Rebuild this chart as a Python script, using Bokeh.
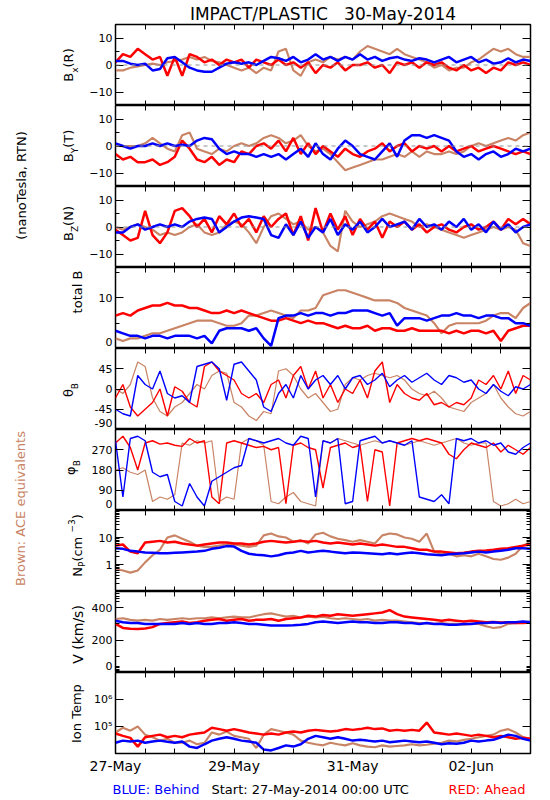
import numpy as np
from bokeh.plotting import figure
from bokeh.layouts import row, column
from bokeh.models import Range1d, FixedTicker, LinearAxis, LogAxis, Span
from bokeh.embed import file_html
from bokeh.resources import INLINE
from bokeh.core.properties import value

# ---------------- data (3-hourly, hours since 27-May-2014 00:00 UTC) ----------------
hours = list(range(0, 169, 3))

x_tick_hours = list(range(0, 169, 12))
x_tick_labels = {0: "27-May", 48: "29-May", 96: "31-May", 144: "02-Jun"}

bx_ahead = [1, 4, 3, 6, 4, 2, 3, -4, 3, -4, 4, 3, 1, 2, 0, 2,
            1, 2, -1, 2, 1, 0, 2, 0, 1, -1, 1, -3, 0, -1, 1, -2,
            0, 0, 1, -1, 0, -3, 1, 0, 1, -1, 1, 0, 1, -1, -2, 0,
            -2, -1, -3, -1, -2, 1, 0, 1, 0]
bx_behind = [1.5, 1.5, 0.5, 0, 0.5, -2, -1.5, 2.5, 3, 1, -1, -2, -2.5, -2.5, -1, 0.5,
             1, 0.5, 1, 0, 1.5, 3, 2.5, 1.5, 3, 1, 2, 4, 2, 3, 1.5, 3,
             2, 4, 2, 3, 1.5, 2.5, 3, 2, 1.5, 2.5, 2, 1, 2, 3, 1, 2,
             3, 1, 2, 0.5, 1, 2.5, 1, 2, 1.5]
bx_ace = [-2, -2, -1, -0.5, 0, 0.5, 0, 1, 1.5, 2, 3, 2, 3, 1.5, 1, 0,
          -1, -2, -1, -3, -1, -2, 5, 6, -2, -4, 1, 2, 1, 3, 2, 3,
          2, 5, 7, 6, 5, 4, 6, 4, 3, 2, 1, -1, 0, -2, -1, -1,
          1, 2, 4, 6, 5, 6, 4, 3, 3]

by_ahead = [-3, -5, -4, -6, -6, -5, -7, -6, -4, 2, -1, -5, -6, -4, -7, -5,
            -6, -2, -3, 0, 1, -1, 2, -2, 3, -3, 1, -3, 0, -2, -4, -1,
            -3, -4, -2, -1, 1, -2, 0, 1, -2, 0, -1, 0, -2, 0, -2, -1,
            0, -2, -1, 0, -1, -2, -3, -2, -3]
by_behind = [1, 0, -1, 0, 0, 1, 0, 1, 0, 0.5, 0, 2, 3, 2.5, -1, -3,
             -2, -3, -3, -4, -3, -4, -3, -5, -3, -1, -4, 1, -3, -5, -1, 2,
             0, -3, -4, -5, -2, 1, -4, 2, 4, 4, 3, 4, 3, 2, -2, -4,
             -3, -5, -3, -2, -4, -3, -1, -2, -1]
by_ace = [0, 0, 0, 0, 1, 3, 1, -1, -2, 4, 5, -1, -2, -3, -1, -2,
          0, 1, 0, 1, 3, 4, 3, 1, 2, 4, 0, -2, -1, -3, -6, -9,
          -8, -7, -6, -5, -5, -4, -3, -4, -2, -4, -2, -3, -3, -2, -3, -2,
          0, 1, 0, 1, 2, 3, 2, 4, 5]

bz_ahead = [-1, -3, -5, -4, 6, -3, -6, -2, 6, 7, 4, 0, 3, -2, 4, 1,
            5, 0, 3, -2, 4, 0, 3, 5, -3, 4, -5, 7, -2, 5, -1, 4,
            -3, 3, -1, 2, -4, 2, 0, 2, -1, 1, -2, 0, 1, -1, -2, 0,
            1, -1, 0, 2, -1, 3, 1, 3, 1]
bz_behind = [-2, -2, 0, 1, -1, 0, 1, 0, 1, 0, 2, 3, 3.5, 3, -2, 0,
             2, 3.5, 4, 3.5, 3, -3, -4, 1, -3, 2, -4, 0, -2, 3, -3, 1,
             -1, 2, -2, 0, 3, 0, 1, 2, -1, 3, 0, 1, -1, 2, 0, 3,
             -1, 1, -2, 2, -1, 1, -2, 0, 1]
bz_ace = [0, -1, 0, 1, 0, -1, -3, -2, -3, -2, 0, 1, -2, -3, -2, 1,
          2, 1, -2, -6, 0, 4, 5, 3, 1, 2, -1, 0, -2, -7, -9, 6,
          2, 0, 1, 2, 4, 5, 4, 3, 2, 0, 1, 0, -1, -2, -3, -4,
          -3, -2, -1, 0, -1, 0, -1, -6, -7]

btot_ahead = [6.5, 7, 6.5, 7.5, 8, 8.5, 8.5, 9, 8.5, 8.5, 8, 8, 7.5, 7, 7, 7.5,
              7, 7.5, 7, 6.5, 6, 5.5, 5.5, 6, 5.5, 5, 5.5, 5, 5, 4.5, 4, 4.5,
              4, 4, 4.5, 3.5, 4, 4, 3.5, 3.5, 4, 3.5, 3.5, 3.5, 3.5, 3, 3.5, 3,
              3.5, 3.5, 3, 3.5, 1.5, 3.5, 4, 4.5, 4.5]
btot_behind = [3.5, 3, 2.5, 2.5, 2, 2.5, 2.5, 2, 2.5, 2.5, 2.5, 2, 2.5, 1, 3.5, 4,
               4, 4, 3.5, 4, 2, 0.5, 6, 6.5, 6.5, 7, 6.5, 7, 7, 6.5, 7, 7,
               7.5, 7.5, 7.5, 7, 6.5, 7, 4.5, 6, 6, 6, 5.5, 6, 6.5, 6.5, 7, 6.5,
               6.5, 6, 6.5, 6.5, 6, 6, 5, 5, 4.5]
btot_ace = [2, 1.5, 2, 2, 2.5, 3, 3, 3.5, 4, 4.5, 5, 5.5, 5.5, 5.5, 5, 4.5,
            4.5, 5, 6.5, 6.5, 7, 7.5, 7, 6.5, 6, 7.5, 7.5, 8, 10.5, 11, 11.5, 11.5,
            11, 10.5, 10, 9.5, 9.5, 9.5, 9, 8, 7.5, 7, 6.5, 5, 3, 4.5, 5, 5,
            5, 5, 5.5, 6.5, 7, 7, 6, 8, 9]

theta_ahead = [-20, 10, -40, -60, -45, -30, 0, -60, 5, -5, -30, -40, 50, 60, 40, 30,
               20, -10, -20, -10, -30, 10, 20, -20, 30, 50, 0, 40, -20, 10, -30, 0,
               -10, 20, -20, 40, 60, -30, 10, -10, -20, -25, -10, -35, -30, -40, -30, -35,
               -20, 20, 10, 30, 0, 40, -10, 30, 20]
theta_behind = [-45, -55, -60, 30, 10, 0, 40, -10, -20, -15, -30, 50, 55, 60, 45, -25,
                55, 60, 40, 20, -40, -50, -10, 10, -20, 30, 0, 20, 30, 10, 30, 0,
                25, 30, 10, 20, 35, 5, 20, 30, 15, 25, 35, 20, 10, 30, 25, 15,
                20, 0, -10, 10, -5, -15, 5, 0, 10]
theta_ace = [0, -10, 10, 60, 50, -20, -50, -60, -40, -30, -10, 10, 0, 30, 40, 35,
             -30, -40, -60, -70, -50, -55, 40, 45, 30, 0, -20, -10, -30, -50, -45, 10,
             25, 20, 30, 35, 30, 25, 30, 20, 0, -10, -15, -5, -20, -40, -45, -50,
             -30, -20, -10, 10, -20, -40, -55, -60, -50]

phi_ahead = [300, 330, 280, 180, 300, 310, 295, 300, 290, 285, 320, 300, 310, 60, 30, 300,
             310, 300, 290, 280, 285, 270, 280, 30, 290, 300, 280, 270, 100, 280, 290, 300,
             280, 290, 40, 270, 260, 20, 300, 310, 320, 310, 320, 310, 300, 250, 230, 270,
             300, 290, 280, 300, 260, 290, 270, 250, 280]
phi_behind = [310, 60, 320, 330, 310, 170, 150, 160, 40, 20, 120, 60, 20, 130, 150, 170,
              190, 200, 320, 310, 300, 310, 320, 300, 290, 330, 320, 60, 310, 300, 320, 30,
              40, 310, 320, 330, 300, 310, 300, 290, 310, 60, 50, 40, 70, 30, 320, 310,
              320, 300, 310, 290, 300, 260, 250, 280, 300]
phi_ace = [180, 190, 170, 160, 180, 40, 60, 50, 70, 300, 290, 310, 300, 310, 40, 60,
           50, 300, 320, 310, 290, 40, 30, 60, 80, 40, 30, 20, 310, 300, 320, 310,
           300, 290, 300, 310, 300, 310, 300, 290, 300, 310, 300, 290, 300, 310, 320, 300,
           290, 300, 300, 40, 20, 30, 50, 30, 40]

np_ahead = [5, 5.5, 3, 2.6, 6.5, 7, 7.5, 6.5, 7, 6, 5.5, 5, 5.5, 6, 6.5, 6.5,
            6, 6, 5.5, 6, 7, 7.5, 7, 6.5, 7, 7.5, 7, 7.5, 6.5, 6, 6.5, 6,
            5.5, 6, 5.5, 5, 5.5, 5, 4.5, 4.5, 4, 3.5, 3.5, 3, 3, 2.8, 2.6, 2.7,
            3, 3.2, 3.3, 3.5, 3.8, 4, 4.5, 5, 5.5]
np_behind = [4, 3.8, 3.2, 3, 2.8, 2.7, 2.6, 2.6, 2.7, 2.8, 2.9, 3, 3.2, 3.8, 4.2, 4.8,
             4.6, 3.2, 2.5, 2.3, 2.2, 2, 2.2, 2.6, 2.8, 3.2, 2.8, 3, 3.2, 3, 2.8, 2.6,
             2.8, 2.7, 2.6, 2.5, 2.4, 2.6, 2.4, 2.6, 2.8, 2.6, 2.4, 2.3, 2.2, 2.4, 2.5, 2.6,
             2.8, 3, 2.8, 3, 3.2, 3.5, 4, 4, 3.8]
np_ace = [0.7, 0.6, 0.5, 0.6, 1.2, 2.2, 3.5, 10, 12, 9, 7, 5, 4.5, 4.5, 5, 5.5,
          5.5, 5, 4.5, 5, 12, 14, 11, 10, 7, 8, 6, 13, 15, 11, 9, 8,
          7, 8, 7, 6, 12, 14, 13, 10, 9, 7, 14, 3, 2.5, 2.5, 2, 2.2,
          2, 2.5, 2, 1.6, 1.5, 1.8, 2.5, 5, 7]

v_ahead = [300, 275, 270, 268, 272, 280, 300, 305, 310, 315, 305, 310, 320, 325, 330, 320,
           325, 330, 320, 325, 325, 330, 320, 330, 335, 340, 350, 345, 355, 350, 360, 355,
           350, 355, 360, 365, 370, 385, 360, 345, 340, 335, 330, 325, 320, 325, 320, 315,
           320, 315, 310, 312, 308, 310, 305, 305, 308]
v_behind = [320, 310, 305, 305, 300, 300, 300, 300, 300, 305, 300, 305, 300, 300, 305, 305,
            310, 305, 300, 300, 295, 290, 290, 290, 292, 295, 300, 310, 315, 310, 305, 310,
            315, 310, 310, 305, 305, 310, 310, 305, 305, 300, 305, 300, 300, 295, 295, 300,
            300, 305, 305, 310, 305, 310, 310, 315, 310]
v_ace = [330, 335, 325, 320, 325, 320, 330, 325, 330, 335, 330, 335, 335, 340, 335, 340,
         345, 340, 340, 350, 360, 365, 355, 345, 350, 340, 345, 340, 345, 335, 330, 335,
         330, 325, 330, 320, 325, 320, 320, 315, 310, 305, 305, 300, 305, 300, 300, 295,
         300, 300, 285, 275, 280, 300, 305, 310, 315]

t_ahead = [5.5e4, 4.5e4, 3.8e4, 1.8e4, 4e4, 4.5e4, 5e4, 4e4, 4.5e4, 4e4, 5e4, 5.5e4, 6e4, 9e4, 8e4, 7e4,
           8e4, 7e4, 6e4, 5.5e4, 5e4, 5.5e4, 5e4, 6e4, 6.5e4, 6e4, 7e4, 7.5e4, 7e4, 6.5e4, 7e4, 8e4,
           7.5e4, 8e4, 9e4, 8e4, 8.5e4, 7e4, 7.5e4, 7e4, 7.5e4, 7e4, 1.4e5, 6e4, 5.5e4, 5e4, 5.5e4, 5e4,
           4.5e4, 5e4, 4.5e4, 4e4, 4.5e4, 4e4, 3.5e4, 3.8e4, 3.5e4]
t_behind = [2.5e4, 3e4, 2.8e4, 3e4, 2.5e4, 2.8e4, 3e4, 2.7e4, 2.5e4, 2.8e4, 1.8e4, 1.6e4, 2.2e4, 3e4, 3.5e4, 4e4,
            3.5e4, 3e4, 2.8e4, 2.5e4, 1.4e4, 1.3e4, 1.6e4, 2e4, 1.8e4, 2.2e4, 3.5e4, 4.5e4, 4e4, 3.5e4, 4e4, 3.5e4,
            3e4, 3.2e4, 3e4, 2.8e4, 3e4, 2.6e4, 2.8e4, 3e4, 2.8e4, 2.6e4, 2.8e4, 2.5e4, 2.2e4, 2.4e4, 2.3e4, 2.5e4,
            3e4, 2.8e4, 3e4, 3.2e4, 4e4, 5e4, 4.5e4, 3.5e4, 3e4]
t_ace = [6e4, 9e4, 7e4, 1e5, 5e4, 4e4, 3e4, 3.5e4, 2.5e4, 2.5e4, 3e4, 2.2e4, 2.5e4, 6e4, 5e4, 6.5e4,
         4.5e4, 4e4, 3.5e4, 1.6e4, 5e4, 8e4, 7e4, 6e4, 5e4, 3e4, 2.5e4, 2.2e4, 2e4, 2.5e4, 2.2e4, 2e4,
         2.4e4, 2e4, 1.8e4, 1.7e4, 2e4, 1.8e4, 1.9e4, 2e4, 2.2e4, 2e4, 2.1e4, 2.3e4, 2.5e4, 3e4, 2.8e4, 3.2e4,
         3.5e4, 4e4, 4.5e4, 5e4, 7e4, 8e4, 6e4, 4e4, 3.5e4]

# ---------------- style ----------------
FONT = "DejaVu Sans"
RED = "#ff0000"
BLUE = "#0000ff"
BROWN = "#c98465"
FRAME_W, FRAME_H = 415, 81
LEFT_W = 86
BORDER_L, BORDER_R = 25, 10
TOP_B, BOT_B = 23, 25
BOTTOM_STRIP = 20
EDGE_RAISE = 6.5  # px: bottom-edge tick labels sit slightly above the edge

log_minor = [m * 10.0 ** e for e in (-1, 0, 1) for m in range(2, 10)]

panels = [
    dict(ser=(bx_ace, bx_ahead, bx_behind), yr=(-15, 15), log=False, ticks=[-10, 0, 10], minor=[-5, 5], zero=True, lw=2.5),
    dict(ser=(by_ace, by_ahead, by_behind), yr=(-15, 15), log=False, ticks=[-10, 0, 10], minor=[-5, 5], zero=True, lw=2.5),
    dict(ser=(bz_ace, bz_ahead, bz_behind), yr=(-15, 15), log=False, ticks=[-10, 0, 10], minor=[-5, 5], zero=True, lw=2.5),
    dict(ser=(btot_ace, btot_ahead, btot_behind), yr=(0, 16), log=False, ticks=[10], minor=[5, 15], edge=True, lw=2.5),
    dict(ser=(theta_ace, theta_ahead, theta_behind), yr=(-90, 90), log=False, ticks=[-45, 0, 45], minor=[], edge=True, lw=1.4),
    dict(ser=(phi_ace, phi_ahead, phi_behind), yr=(0, 360), log=False, ticks=[90, 180, 270], minor=[], edge=True, lw=1.4),
    dict(ser=(np_ace, np_ahead, np_behind), yr=(0.1, 100), log=True, ticks=[1, 10], minor=log_minor,
         over={1: "1", 10: "10"}, lw=2.5),
    dict(ser=(v_ace, v_ahead, v_behind), yr=(0, 500), log=False, ticks=[200, 400],
         minor=[10, 20, 30, 40, 100, 300, 440, 455, 470, 485], edge=True, lw=2.5),
    dict(ser=(t_ace, t_ahead, t_behind), yr=(1e4, 1e7), log=True, ticks=[1e5, 1e6], minor=[],
         over={1e5: "10⁵", 1e6: "10⁶"}, lw=2.5),
]

x_range = Range1d(0, 168)


def tick_style(ax, ticks, minor):
    ax.ticker = FixedTicker(ticks=ticks, minor_ticks=minor)
    ax.major_tick_in = 8
    ax.major_tick_out = 0
    ax.minor_tick_in = 4
    ax.minor_tick_out = 0
    ax.major_tick_line_color = "black"
    ax.minor_tick_line_color = "black"
    ax.axis_line_color = "black"
    ax.major_label_text_font = FONT
    ax.major_label_text_font_size = "11px"
    ax.major_label_text_color = "black"
    ax.major_label_standoff = 3


figs = []
n = len(panels)
for i, spec in enumerate(panels):
    first, last = i == 0, i == n - 1
    lo, hi = spec["yr"]
    p = figure(frame_width=FRAME_W, frame_height=FRAME_H, x_range=x_range,
               y_range=Range1d(lo, hi), y_axis_type="log" if spec["log"] else "linear",
               x_axis_location="below" if last else None,
               title="IMPACT/PLASTIC\u00a0\u00a0\u00a030-May-2014" if first else None,
               output_backend="svg", toolbar_location=None,
               min_border_left=BORDER_L, min_border_right=BORDER_R,
               min_border_top=TOP_B if first else 0, min_border_bottom=BOT_B if last else 0)
    p.outline_line_color = "black"
    p.outline_line_width = 1.5
    p.grid.visible = False
    p.background_fill_color = "white"
    p.border_fill_color = "white"
    if first:
        p.title.align = "center"
        p.title.text_font = FONT
        p.title.text_font_size = "17px"
        p.title.text_font_style = "normal"
        p.title.text_color = "black"
        p.title.standoff = 2
        p.title.offset = 0

    if last:
        xa = p.below[0]
        xa.ticker = FixedTicker(ticks=x_tick_hours)
        xa.major_label_overrides = {h: x_tick_labels.get(h, "") for h in x_tick_hours}
        xa.major_tick_in = 5
        xa.major_tick_out = 0
        xa.minor_tick_line_color = None
        xa.axis_line_color = "black"
        xa.major_tick_line_color = "black"
        xa.major_label_text_font = FONT
        xa.major_label_text_font_size = "14px"
        xa.major_label_text_color = "black"
        xa.major_label_standoff = 4

    la = p.left[0]
    if spec.get("edge"):
        # labelled axis on a range shifted by EDGE_RAISE px, so the bottom value's label is
        # lifted off the edge; tick marks come from an axis pinned to the frame edge.
        sh = EDGE_RAISE / FRAME_H * (hi - lo)
        p.extra_y_ranges = {"lab": Range1d(lo - sh, hi - sh)}
        la.y_range_name = "lab"
        lab_ticks = [lo] + [t - sh for t in spec["ticks"]]
        tick_style(la, lab_ticks, [])
        la.major_label_overrides = dict([(lo, f"{lo:g}")] + [(t - sh, f"{t:g}") for t in spec["ticks"]])
        la.major_tick_line_color = None
        la.minor_tick_line_color = None
        la.axis_line_color = None
        ta = LinearAxis(fixed_location=0)
        tick_style(ta, spec["ticks"], spec["minor"])
        ta.axis_line_color = None
        ta.major_label_overrides = {t: "" for t in spec["ticks"]}
        p.add_layout(ta, "left")
    else:
        tick_style(la, spec["ticks"], spec["minor"])
        if "over" in spec:
            la.major_label_overrides = spec["over"]

    ra = (LogAxis if spec["log"] else LinearAxis)()
    tick_style(ra, spec["ticks"], spec["minor"])
    ra.major_label_overrides = {t: "" for t in spec["ticks"]}
    p.add_layout(ra, "right")

    # time ticks on top / bottom edges of the box
    sides = [("above", hi)]
    if not last:
        sides.append(("below", lo))
    for side, loc in sides:
        ax = LinearAxis(ticker=FixedTicker(ticks=x_tick_hours), fixed_location=loc,
                        major_tick_in=5, major_tick_out=0, minor_tick_line_color=None,
                        axis_line_color=None, major_tick_line_color="black",
                        major_label_overrides={h: "" for h in x_tick_hours})
        p.add_layout(ax, side)

    if spec.get("zero"):
        p.add_layout(Span(location=0, dimension="width", line_color="#909090",
                          line_dash="4 4", line_width=1))

    ace, ahead, behind = spec["ser"]
    p.line(hours, ace, line_color=BROWN, line_width=spec["lw"] * 0.85)
    p.line(hours, ahead, line_color=RED, line_width=spec["lw"])
    p.line(hours, behind, line_color=BLUE, line_width=spec["lw"])
    figs.append(p)

# ---------------- left label strip (page pixel coordinates) ----------------
main_h = TOP_B + FRAME_H * n + BOT_B
lf = figure(width=LEFT_W, height=main_h, x_range=Range1d(0, LEFT_W),
            y_range=Range1d(main_h, 0), title=None, output_backend="svg",
            toolbar_location=None, x_axis_location=None, y_axis_location=None,
            min_border=0, outline_line_color=None)
lf.grid.visible = False
lf.background_fill_color = "white"
lf.border_fill_color = "white"

EM = {"B": .686, "x": .592, "Y": .611, "Z": .685, "N": .748, "P": .603, "(": .39, ")": .39,
      "R": .695, "T": .611, " ": .318, "c": .55, "m": .974, "−": .838, "3": .636, "θ": .602,
      "φ": .66, "t": .392, "o": .612, "a": .613, "l": .278, "V": .684, "k": .579, "/": .337,
      "s": .521, "I": .295, "n": .634, "e": .615, "p": .635}

axis_titles = [
    ([("B", 13, 0), ("x", 9, 6), ("(R)", 13, 0)], 68, 64.5),
    ([("B", 13, 0), ("Y", 9, 6), ("(T)", 13, 0)], 68, 145.5),
    ([("B", 13, 0), ("Z", 9, 6), ("(N)", 13, 0)], 68, 223),
    ([("total B", 13, 0)], 77, 291.5),
    ([("θ", 13, 0), ("B", 9, 6)], 68, 389.5),
    ([("φ", 13, 0), ("B", 9, 6)], 70, 467),
    ([("N", 13, 0), ("P", 9, 4), (" (cm", 13, 0), ("−3", 9, -6), (")", 13, 0)], 77, 545),
    ([("V (km/s)", 14, 0)], 77, 634),
    ([("Ion Temp", 13, 0)], 76, 712),
]
tx, ty, tt, ts = [], [], [], []
for parts, xb, yc in axis_titles:
    total = sum(sum(EM.get(c, .6) for c in s) * sz for s, sz, _ in parts)
    y = yc + total / 2
    for s, sz, sh in parts:
        tx.append(xb + sh)
        ty.append(y)
        tt.append(s)
        ts.append(f"{sz}px")
        y -= sum(EM.get(c, .6) for c in s) * sz
lf.text(x=tx, y=ty, text=tt, angle=np.pi / 2, text_font=value(FONT), text_font_size=ts,
        text_align="left", text_baseline="alphabetic", text_color="black")

lf.text(x=[21], y=[185], text=["(nanoTesla, RTN)"], angle=np.pi / 2, text_font=value(FONT),
        text_font_size="13px", text_align="center", text_baseline="middle", text_color="black")
lf.text(x=[20], y=[508], text=["Brown: ACE equivalents"], angle=np.pi / 2, text_font=value(FONT),
        text_font_size="13px", text_align="center", text_baseline="middle", text_color=BROWN)

# ---------------- bottom caption strip (page pixel coordinates) ----------------
strip_w = LEFT_W + BORDER_L + FRAME_W + BORDER_R
bf = figure(width=strip_w, height=BOTTOM_STRIP, x_range=Range1d(0, strip_w),
            y_range=Range1d(main_h + BOTTOM_STRIP, main_h), title=None, output_backend="svg",
            toolbar_location=None, x_axis_location=None, y_axis_location=None,
            min_border=0, outline_line_color=None)
bf.grid.visible = False
bf.background_fill_color = "white"
bf.border_fill_color = "white"
bf.text(x=[112, 211], y=[788, 788], text=["BLUE: Behind", "Start: 27-May-2014 00:00 UTC"],
        text_color=[BLUE, "black"], text_font=value(FONT), text_font_size="13px",
        text_align="left", text_baseline="alphabetic")
bf.text(x=[525], y=[788], text=["RED: Ahead"], text_color=RED, text_font=value(FONT),
        text_font_size="13px", text_align="right", text_baseline="alphabetic")

layout = column(row(lf, column(*figs, spacing=0), spacing=0), bf, spacing=0)
open("out.html", "w").write(file_html(layout, INLINE))
